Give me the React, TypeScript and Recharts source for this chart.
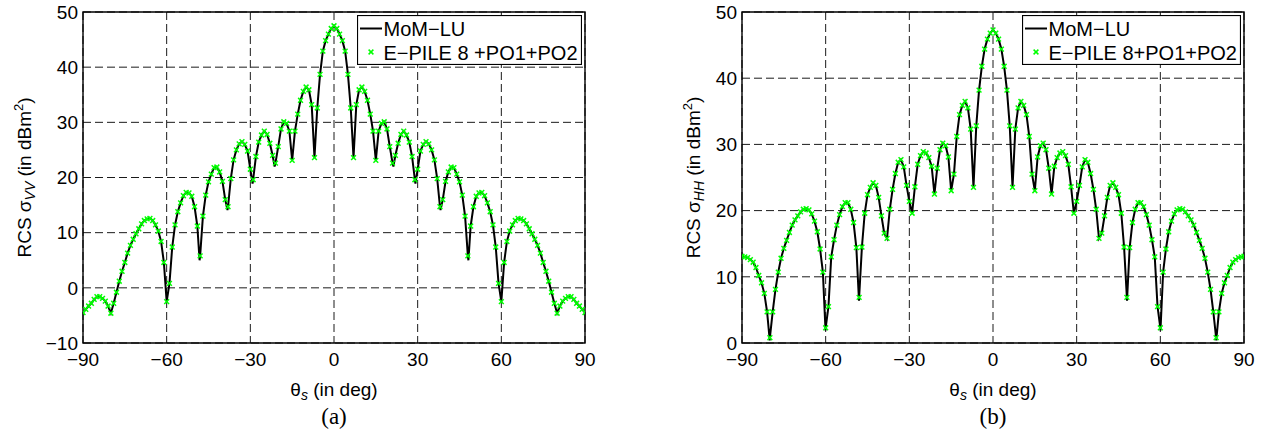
import {
  CartesianGrid,
  ComposedChart,
  Label,
  Legend,
  Line,
  ReferenceArea,
  Scatter,
  XAxis,
  YAxis,
} from "recharts";

const FONT = "'Liberation Sans', Arial, Helvetica, sans-serif";
const SERIF = "'Liberation Serif', 'Times New Roman', serif";
const GREEN = "#00ff00";

// scattering angles sampled by E-PILE (deg)
const thetaDeg = [
  -90, -89, -88, -87, -86, -85, -84, -83, -82, -81,
  -80, -79, -78, -77, -76, -75, -74, -73, -72, -71,
  -70, -69, -68, -67, -66, -65, -64, -63, -62, -61,
  -60, -59, -58, -57, -56, -55, -54, -53, -52, -51,
  -50, -49, -48, -47, -46, -45, -44, -43, -42, -41,
  -40, -39, -38, -37, -36, -35, -34, -33, -32, -31,
  -30, -29, -28, -27, -26, -25, -24, -23, -22, -21,
  -20, -19, -18, -17, -16, -15, -14, -13, -12, -11,
  -10, -9, -8, -7, -6, -5, -4, -3, -2, -1,
  0, 1, 2, 3, 4, 5, 6, 7, 8, 9,
  10, 11, 12, 13, 14, 15, 16, 17, 18, 19,
  20, 21, 22, 23, 24, 25, 26, 27, 28, 29,
  30, 31, 32, 33, 34, 35, 36, 37, 38, 39,
  40, 41, 42, 43, 44, 45, 46, 47, 48, 49,
  50, 51, 52, 53, 54, 55, 56, 57, 58, 59,
  60, 61, 62, 63, 64, 65, 66, 67, 68, 69,
  70, 71, 72, 73, 74, 75, 76, 77, 78, 79,
  80, 81, 82, 83, 84, 85, 86, 87, 88, 89,
  90,
];

// (a) sigma_VV in dBm^2
const vvEpile = [
  -4.5, -3.9, -3.3, -2.8, -2.1, -1.6, -1.6, -1.9, -2.4, -3.3,
  -4.6, -2.8, -0.8, 1.2, 3.0, 4.6, 6.3, 7.7, 8.8, 9.8,
  10.7, 11.6, 12.2, 12.5, 12.6, 12.2, 11.4, 10.3, 8.4, 4.6,
  -2.5, 0.8, 7.4, 11.4, 13.8, 15.4, 16.7, 17.3, 17.2, 16.6,
  14.7, 11.2, 5.8, 13.0, 16.8, 19.2, 20.6, 21.8, 21.9, 21.0,
  19.3, 16.0, 14.7, 19.8, 23.2, 25.0, 26.1, 26.5, 26.0, 24.8,
  21.5, 19.6, 23.8, 26.4, 27.7, 28.4, 27.8, 26.2, 24.0, 22.6,
  25.6, 28.8, 30.1, 29.8, 28.4, 23.1, 28.4, 31.5, 34.0, 35.6,
  36.4, 35.9, 33.2, 23.6, 32.6, 38.7, 42.9, 44.8, 46.0, 47.0,
  47.5, 47.0, 46.0, 44.8, 42.9, 38.7, 32.6, 23.6, 33.2, 35.9,
  36.4, 35.6, 34.0, 31.5, 28.4, 23.1, 28.4, 29.8, 30.1, 28.8,
  25.6, 22.6, 24.0, 26.2, 27.8, 28.4, 27.7, 26.4, 23.8, 19.6,
  21.5, 24.8, 26.0, 26.5, 26.1, 25.0, 23.2, 19.8, 14.7, 16.0,
  19.3, 21.0, 21.9, 21.8, 20.6, 19.2, 16.8, 13.0, 5.8, 11.2,
  14.7, 16.6, 17.2, 17.3, 16.7, 15.4, 13.8, 11.4, 7.4, 0.8,
  -2.5, 4.6, 8.4, 10.3, 11.4, 12.2, 12.6, 12.5, 12.2, 11.6,
  10.7, 9.8, 8.8, 7.7, 6.3, 4.6, 3.0, 1.2, -0.8, -2.8,
  -4.6, -3.3, -2.4, -1.9, -1.6, -1.6, -2.1, -2.8, -3.3, -3.9,
  -4.5,
];

// (b) sigma_HH in dBm^2
const hhEpile = [
  13.1, 13.0, 12.9, 12.6, 12.2, 11.4, 10.2, 9.1, 7.5, 4.7,
  0.8, 4.7, 8.1, 10.7, 12.8, 14.3, 15.5, 16.7, 17.8, 18.6,
  19.2, 19.8, 20.2, 20.3, 20.1, 19.5, 18.4, 16.8, 14.2, 10.7,
  2.3, 5.5, 13.0, 15.6, 17.8, 19.4, 20.6, 21.2, 21.2, 20.2,
  18.2, 14.4, 6.9, 14.5, 19.6, 22.4, 23.5, 24.2, 23.8, 22.0,
  19.2, 16.6, 15.8, 20.2, 23.2, 25.6, 27.3, 27.7, 26.6, 23.8,
  21.4, 19.6, 23.6, 27.0, 28.3, 28.9, 28.7, 28.0, 26.7, 22.5,
  26.4, 29.2, 30.2, 29.8, 28.1, 23.0, 25.5, 31.2, 34.5, 35.9,
  36.5, 35.5, 32.3, 23.5, 32.8, 38.2, 41.8, 44.4, 45.9, 46.8,
  47.3, 46.8, 45.9, 44.4, 41.8, 38.2, 32.8, 23.5, 32.3, 35.5,
  36.5, 35.9, 34.5, 31.2, 25.5, 23.0, 28.1, 29.8, 30.2, 29.2,
  26.4, 22.5, 26.7, 28.0, 28.7, 28.9, 28.3, 27.0, 23.6, 19.6,
  21.4, 23.8, 26.6, 27.7, 27.3, 25.6, 23.2, 20.2, 15.8, 16.6,
  19.2, 22.0, 23.8, 24.2, 23.5, 22.4, 19.6, 14.5, 6.9, 14.4,
  18.2, 20.2, 21.2, 21.2, 20.6, 19.4, 17.8, 15.6, 13.0, 5.5,
  2.3, 10.7, 14.2, 16.8, 18.4, 19.5, 20.1, 20.3, 20.2, 19.8,
  19.2, 18.6, 17.8, 16.7, 15.5, 14.3, 12.8, 10.7, 8.1, 4.7,
  0.8, 4.7, 7.5, 9.1, 10.2, 11.4, 12.2, 12.6, 12.9, 13.0,
  13.1,
];

// nulls where the MoM-LU curve dips below the sampled markers
const vvNullTheta = [-48.2, -38.2, -29.2, -21.3, 21.3, 29.2, 38.2, 48.2];
const vvNullValue = [5.0, 14.1, 18.9, 22.0, 22.0, 18.9, 14.1, 5.0];
const hhNullTheta = [-80.05, -60.05, -48.05, 48.05, 60.05, 80.05];
const hhNullValue = [0.4, 1.9, 6.4, 6.4, 1.9, 0.4];

const xTicks = [-90, -60, -30, 0, 30, 60, 90];
const vvTicks = [-10, 0, 10, 20, 30, 40, 50];
const hhTicks = [0, 10, 20, 30, 40, 50];

const minus = (v: number) => (v < 0 ? "\u2212" + Math.abs(v) : String(v));

function Cross(props: any) {
  const { cx, cy } = props;
  if (cx == null || cy == null) return null;
  const r = 2.4;
  return (
    <path
      d={`M${cx - r},${cy - r}L${cx + r},${cy + r}M${cx - r},${cy + r}L${cx + r},${cy - r}`}
      stroke={GREEN}
      strokeWidth={1.5}
      fill="none"
    />
  );
}

function LegendBox({ width, label }: { width: number; label: string }) {
  return (
    <svg width={width} height={50} style={{ display: "block" }}>
      <rect x={0.5} y={0.5} width={width - 1} height={49} fill="#fff" stroke="#000" strokeWidth={1.2} />
      <line x1={3} x2={25} y1={13.5} y2={13.5} stroke="#000" strokeWidth={2} />
      <text x={26.5} y={21} fontSize={20} fontFamily={FONT} fill="#000">
        MoM{"\u2212"}LU
      </text>
      <Cross cx={14} cy={37} />
      <text x={26.5} y={45} fontSize={20} fontFamily={FONT} fill="#000">
        {label}
      </text>
    </svg>
  );
}

function XLabel(props: any) {
  const { x, y, width } = props.viewBox;
  const cx = x + width / 2;
  return (
    <g>
      <text x={cx} y={y + 53} textAnchor="middle" fontSize={19} fontFamily={FONT} fill="#000">
        θ<tspan fontSize={14} fontStyle="italic" dy={4}>s</tspan><tspan dy={-4}> (in deg)</tspan>
      </text>
      <text x={cx} y={y + 81} textAnchor="middle" fontSize={23} fontFamily={SERIF} fill="#000">
        {props.tag}
      </text>
    </g>
  );
}

function YLabel(props: any) {
  const { x, y, height } = props.viewBox;
  const cx = x + props.dx;
  const cy = y + height / 2;
  return (
    <text
      transform={`translate(${cx},${cy}) rotate(-90)`}
      y={7}
      textAnchor="middle"
      fontSize={19}
      fontFamily={FONT}
      fill="#000"
    >
      RCS σ<tspan fontSize={14} fontStyle="italic" dy={4}>{props.sub}</tspan><tspan dy={-4}> (in dBm</tspan><tspan fontSize={13} dy={-8}>2</tspan><tspan dy={8}>)</tspan>
    </text>
  );
}

interface PanelProps {
  left: number;
  width: number;
  marginLeft: number;
  marginRight: number;
  values: number[];
  nullTheta: number[];
  nullValue: number[];
  yTicks: number[];
  sub: string;
  yLabelDx: number;
  tag: string;
  legendLeft: number;
  legendWidth: number;
  label2: string;
}

function Panel(p: PanelProps) {
  const markers = thetaDeg.map((t, i) => ({ theta: t, value: p.values[i] }));
  const curve = [
    ...markers,
    ...p.nullTheta.map((t, i) => ({ theta: t, value: p.nullValue[i] })),
  ].sort((a, b) => a.theta - b.theta);
  const yMin = p.yTicks[0];
  const yMax = p.yTicks[p.yTicks.length - 1];
  const tickStyle = { fontSize: 19, fill: "#000", fontFamily: FONT };

  return (
    <div style={{ position: "absolute", left: p.left, top: 0 }}>
      <ComposedChart
        width={p.width}
        height={437}
        margin={{ top: 12, right: p.marginRight, bottom: 64, left: p.marginLeft }}
      >
        <CartesianGrid stroke="#000" strokeDasharray="8 4" strokeWidth={0.9} />
        <XAxis
          type="number"
          dataKey="theta"
          domain={[-90, 90]}
          ticks={xTicks}
          interval={0}
          height={30}
          tickSize={0}
          tickMargin={10}
          tickLine={false}
          axisLine={false}
          tick={tickStyle}
          tickFormatter={minus}
          allowDataOverflow
        >
          <Label content={<XLabel tag={p.tag} />} />
        </XAxis>
        <YAxis
          type="number"
          dataKey="value"
          domain={[yMin, yMax]}
          ticks={p.yTicks}
          interval={0}
          width={60}
          tickSize={0}
          tickMargin={5}
          tickLine={false}
          axisLine={false}
          tick={tickStyle}
          tickFormatter={minus}
          allowDataOverflow
        >
          <Label content={<YLabel sub={p.sub} dx={p.yLabelDx} />} />
        </YAxis>
        <ReferenceArea
          x1={-90}
          x2={90}
          y1={yMin}
          y2={yMax}
          fill="none"
          fillOpacity={0}
          stroke="#000"
          strokeWidth={1.4}
        />
        <Line
          data={curve}
          dataKey="value"
          type="linear"
          stroke="#000"
          strokeWidth={2}
          dot={false}
          activeDot={false}
          isAnimationActive={false}
          name="MoM-LU"
        />
        <Scatter
          data={markers}
          dataKey="value"
          shape={<Cross />}
          isAnimationActive={false}
          name={p.label2}
        />
        <Legend
          layout="horizontal"
          verticalAlign="middle"
          align="center"
          wrapperStyle={{ left: p.legendLeft, top: 15, width: p.legendWidth, height: 50 }}
          content={() => <LegendBox width={p.legendWidth} label={p.label2} />}
        />
      </ComposedChart>
    </div>
  );
}

export default function App() {
  return (
    <div
      style={{
        position: "absolute",
        left: 0,
        top: 0,
        width: 1272,
        height: 437,
        background: "#fff",
        overflow: "hidden",
      }}
    >
      <Panel
        left={0}
        width={600}
        marginLeft={23}
        marginRight={15}
        values={vvEpile}
        nullTheta={vvNullTheta}
        nullValue={vvNullValue}
        yTicks={vvTicks}
        sub="VV"
        yLabelDx={1}
        tag="(a)"
        legendLeft={357}
        legendWidth={225}
        label2={"E\u2212PILE 8 +PO1+PO2"}
      />
      <Panel
        left={640}
        width={620}
        marginLeft={42}
        marginRight={16}
        values={hhEpile}
        nullTheta={hhNullTheta}
        nullValue={hhNullValue}
        yTicks={hhTicks}
        sub="HH"
        yLabelDx={11}
        tag="(b)"
        legendLeft={382}
        legendWidth={219}
        label2={"E\u2212PILE 8+PO1+PO2"}
      />
    </div>
  );
}
